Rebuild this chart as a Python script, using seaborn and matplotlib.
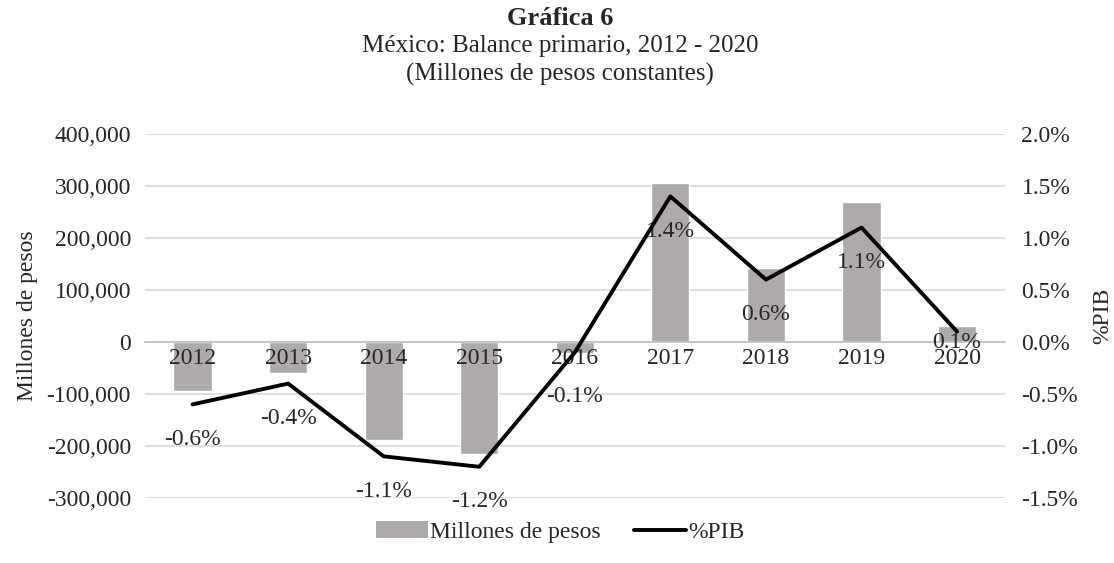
import numpy as np
import pandas as pd
import seaborn as sns
import matplotlib.pyplot as plt
from matplotlib.patches import Patch
from matplotlib.lines import Line2D
from matplotlib.ticker import FuncFormatter

# datos
years = ["2012", "2013", "2014", "2015", "2016", "2017", "2018", "2019", "2020"]
millones = [-95000, -60000, -188000, -215000, -21000, 305000, 142000, 269000, 31000]
pct_pib = [-0.6, -0.4, -1.1, -1.2, -0.1, 1.4, 0.6, 1.1, 0.1]

# desplazamiento vertical de cada etiqueta (puntos)
label_dy = [-25, -25, -25, -25, -32, -25, -25, -25, -8]

df = pd.DataFrame({"year": years, "millones": millones, "pib": pct_pib})

sns.set_style("white")
plt.rcParams["font.family"] = ["Liberation Serif", "DejaVu Serif"]
plt.rcParams["font.size"] = 17

fs = 17
bar_color = "#ADAAA9"
grid_color = "#D9D9D9"

fig = plt.figure(figsize=(11.14, 5.63), dpi=100)
ax = fig.add_axes([0.130, 0.1155, 0.772, 0.6465])

sns.barplot(data=df, x="year", y="millones", color=bar_color, width=0.4,
            saturation=1, ax=ax, zorder=2)

ax.set_ylim(-300000, 400000)
ax.set_yticks(np.arange(-300000, 400001, 100000))
ax.yaxis.set_major_formatter(FuncFormatter(lambda v, p: f"{v:,.0f}"))
ax.grid(axis="y", color=grid_color, linewidth=1.2, zorder=0)
ax.set_axisbelow(True)
ax.tick_params(axis="y", length=0, pad=10, labelsize=fs)
ax.set_ylabel("Millones de pesos", fontsize=fs, labelpad=6)
ax.set_xlabel("")

# eje x sobre el cero
for s in ["top", "right", "left"]:
    ax.spines[s].set_visible(False)
ax.spines["bottom"].set_position(("data", 0))
ax.spines["bottom"].set_color("#BFBFBF")
ax.spines["bottom"].set_linewidth(1.2)
ax.set_xticks(np.arange(-0.5, len(years), 1))
ax.set_xticklabels([])
ax.tick_params(axis="x", length=6, color="#BFBFBF", width=1.2)
for i, y in enumerate(years):
    ax.annotate(y, (i, 0), xytext=(0, -4), textcoords="offset points",
                ha="center", va="top", fontsize=fs, zorder=5)

# eje secundario
ax2 = ax.twinx()
sns.pointplot(data=df, x="year", y="pib", color="black", markers="",
              linewidth=2.8, ax=ax2, zorder=4)
ax2.set_ylim(-1.5, 2.0)
ax2.set_yticks(np.arange(-1.5, 2.01, 0.5))
ax2.yaxis.set_major_formatter(FuncFormatter(lambda v, p: f"{v:.1f}%"))
ax2.tick_params(axis="y", length=0, pad=12, labelsize=fs)
ax2.set_ylabel("%PIB", fontsize=fs, labelpad=10)
ax2.set_xlabel("")
for s in ax2.spines.values():
    s.set_visible(False)
ax2.set_xlim(-0.5, len(years) - 0.5)
ax.set_xlim(-0.5, len(years) - 0.5)
ax2.set_xticks(np.arange(-0.5, len(years), 1))
ax2.set_xticklabels([])
ax2.tick_params(axis="x", length=0)

for i, v in enumerate(pct_pib):
    ax2.annotate(f"{v:.1f}%", (i, v), xytext=(0, label_dy[i]),
                 textcoords="offset points", ha="center", va="center",
                 fontsize=fs)

# titulo
fig.text(0.503, 0.967, "Gráfica 6", ha="center", va="center",
         fontsize=19, fontweight="bold")
fig.text(0.503, 0.919, "México: Balance primario, 2012 - 2020", ha="center",
         va="center", fontsize=18)
fig.text(0.503, 0.867, "(Millones de pesos constantes)", ha="center",
         va="center", fontsize=18)

handles = [Patch(facecolor=bar_color, edgecolor="none"),
           Line2D([0], [0], color="black", linewidth=2.8)]
fig.legend(handles, ["Millones de pesos", "%PIB"], loc="center",
           bbox_to_anchor=(0.503, 0.055), ncol=2, frameon=False, fontsize=fs,
           handlelength=2.2, handletextpad=0.1, columnspacing=1.4)

fig.savefig("out.png", dpi=100)
